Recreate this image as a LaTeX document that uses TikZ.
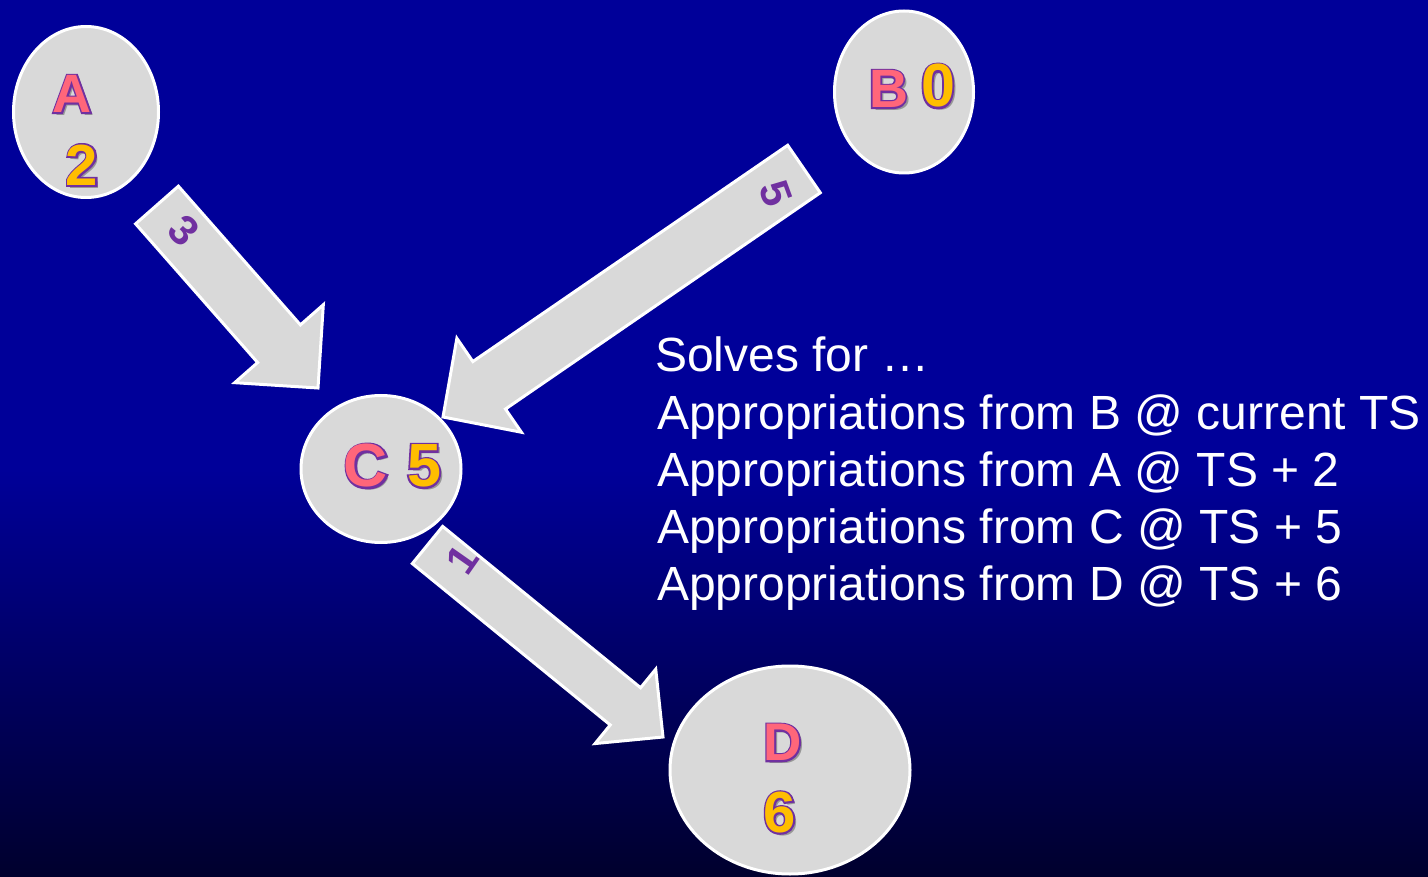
\documentclass[tikz,border=0pt]{standalone}
\usepackage{fontspec}
\setmainfont{Liberation Sans}
\newfontfamily\strokedfont{Liberation Sans}[FakeBold=6]
\usetikzlibrary{shapes.geometric,calc}

\definecolor{bgblue}{RGB}{0,0,153}
\definecolor{bgdark}{RGB}{0,0,45}
\definecolor{bubble}{RGB}{217,217,217}
\definecolor{letterpink}{RGB}{255,102,122}
\definecolor{digitgold}{RGB}{255,190,0}
\definecolor{edgepurple}{RGB}{112,48,160}

\tikzset{
  bubblenode/.style={ellipse, draw=white, line width=3, fill=bubble, inner sep=0},
  blockarrow/.style={draw=white, line width=3, fill=bubble, line join=miter},
  glyph/.style={inner sep=0, outer sep=0},
  arrowlabel/.style={inner sep=0, text=edgepurple, font=\fontsize{42}{42}\selectfont\bfseries},
  infoline/.style={inner sep=0, anchor=base west, text=white, font=\fontsize{48}{57}\selectfont},
}

% block arrow: #1 name, #2 tail, #3 tip, #4 shaft half width, #5 head half width, #6 head length
\newcommand\drawblockarrow[6]{%
  \coordinate (#1-neck) at ($(#3)!#6!(#2)$);
  \draw[blockarrow]
    ($(#2)!#4!90:(#3)$) --
    ($(#1-neck)!#4!-90:(#2)$) --
    ($(#1-neck)!#5!-90:(#2)$) --
    (#3) --
    ($(#1-neck)!#5!90:(#2)$) --
    ($(#1-neck)!#4!90:(#2)$) --
    ($(#2)!#4!-90:(#3)$) -- cycle;
}

% bold glyph with purple outline and soft drop shadow: #1 name, #2 position, #3 colour, #4 size, #5 text
\newcommand\outlinedglyph[5]{%
  \node[glyph, text=black, opacity=0.3, font=\fontsize{#4}{#4}\selectfont\bfseries] at ($(#2)+(3,3)$) {#5};
  \node[glyph, text=edgepurple, font=\strokedfont\fontsize{#4}{#4}\selectfont\bfseries] at (#2) {#5};
  \node[glyph, text=#3, font=\fontsize{#4}{#4}\selectfont\bfseries] (#1) at (#2) {#5};
}

\begin{document}
\begin{tikzpicture}[x=1pt, y=-1pt]
  \useasboundingbox (0,0) rectangle (1428,877);

  % background
  \fill[bgblue] (0,0) rectangle (1428,877);
  \shade[top color=bgblue, bottom color=bgdark] (0,470) rectangle (1428,877);

  % arrow end points
  \coordinate (ACtail) at (157,205);
  \coordinate (ACtip)  at (318,388);
  \coordinate (BCtail) at (804,169);
  \coordinate (BCtip)  at (443,417);
  \coordinate (CDtail) at (427.5,545);
  \coordinate (CDtip)  at (663,737);

  % block arrows
  \drawblockarrow{AC}{ACtail}{ACtip}{28.5pt}{59pt}{59pt}
  \drawblockarrow{BC}{BCtail}{BCtip}{28.8pt}{57pt}{56pt}
  \drawblockarrow{CD}{CDtail}{CDtip}{24pt}{48pt}{48.5pt}

  % weights on the arrows
  \node[arrowlabel, rotate=-45] (w3) at (184,231) {3};
  \node[arrowlabel, rotate=-70] (w5) at (776,194) {5};
  \node[arrowlabel, rotate=55]  (w1) at (462,560) {1};

  % activity bubbles
  \node[bubblenode, minimum width=145, minimum height=171] (A) at (86,112) {};
  \node[bubblenode, minimum width=139, minimum height=162] (B) at (904,92) {};
  \node[bubblenode, minimum width=160, minimum height=147] (C) at (381,469) {};
  \node[bubblenode, minimum width=240, minimum height=208] (D) at (790,770) {};

  % bubble names and times
  \outlinedglyph{Aname}{72,94}{letterpink}{54}{A}
  \outlinedglyph{Atime}{82,165}{digitgold}{58}{2}
  \outlinedglyph{Bname}{888.5,89}{letterpink}{54}{B}
  \outlinedglyph{Btime}{938,86}{digitgold}{61}{0}
  \outlinedglyph{Cname}{366,466}{letterpink}{61}{C}
  \outlinedglyph{Ctime}{424,466}{digitgold}{61}{5}
  \outlinedglyph{Dname}{782.5,742.5}{letterpink}{53}{D}
  \outlinedglyph{Dtime}{779.5,812.5}{digitgold}{58}{6}

  % explanation
  \node[infoline] (line1) at (655,372) {Solves for …};
  \node[infoline] (line2) at (657,429) {Appropriations from B @ current TS};
  \node[infoline] (line3) at (657,486) {Appropriations from A @ TS + 2};
  \node[infoline] (line4) at (657,543) {Appropriations from C @ TS + 5};
  \node[infoline] (line5) at (657,600) {Appropriations from D @ TS + 6};
\end{tikzpicture}
\end{document}
